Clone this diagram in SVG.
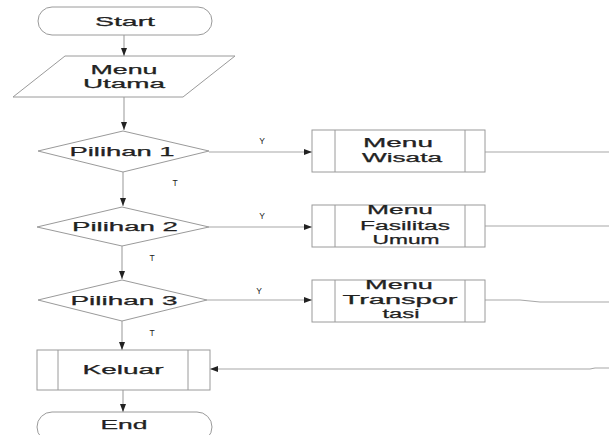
<svg xmlns="http://www.w3.org/2000/svg" width="609" height="435" viewBox="0 0 609 435">
<defs>
<marker id="ah" markerWidth="8" markerHeight="6" refX="8" refY="3" orient="auto" markerUnits="userSpaceOnUse">
<path d="M0,0 L8,3 L0,6 Z" fill="#222"/>
</marker>
<style>
.s{fill:#fff;stroke:#9a9a9a;stroke-width:1}
.c{fill:none;stroke:#a8a8a8;stroke-width:1.2}
.t{font-family:"Liberation Sans",Arial,sans-serif;font-size:12.5px;fill:#222;stroke:#222;stroke-width:0.25;text-anchor:middle}
.l{font-family:"Liberation Sans",Arial,sans-serif;font-size:8.5px;fill:#222;text-anchor:middle}
</style>
</defs>
<rect width="609" height="435" fill="#fff"/>
<g id="connectors">
<line class="c" x1="124" y1="35" x2="124" y2="56" marker-end="url(#ah)"/>
<line class="c" x1="124" y1="97" x2="124" y2="130" marker-end="url(#ah)"/>
<line class="c" x1="123" y1="172" x2="123" y2="206" marker-end="url(#ah)"/>
<line class="c" x1="122" y1="246" x2="122" y2="279" marker-end="url(#ah)"/>
<line class="c" x1="122" y1="321" x2="122" y2="350" marker-end="url(#ah)"/>
<line class="c" x1="123" y1="390" x2="123" y2="412" marker-end="url(#ah)"/>
<line class="c" x1="209" y1="152" x2="312" y2="152" marker-end="url(#ah)"/>
<line class="c" x1="209" y1="227" x2="312" y2="227" marker-end="url(#ah)"/>
<line class="c" x1="207" y1="300" x2="312" y2="300" marker-end="url(#ah)"/>
<line class="c" x1="485" y1="152" x2="609" y2="152"/>
<line class="c" x1="485" y1="226" x2="609" y2="226"/>
<polyline class="c" points="485,300 520,300 540,302 609,302"/>
<polyline class="c" points="609,368 595,368 590,369 210,369" marker-end="url(#ah)"/>
<text class="l" x="262" y="144">Y</text>
<text class="l" x="262" y="219">Y</text>
<text class="l" x="259" y="294">Y</text>
<text class="l" x="175" y="186">T</text>
<text class="l" x="152" y="261">T</text>
<text class="l" x="152" y="336">T</text>
</g>
<g id="start">
<rect class="s" x="38" y="7" width="174" height="28" rx="14" ry="14"/>
<text class="t" x="125" y="26" textLength="60" lengthAdjust="spacingAndGlyphs">Start</text>
</g>
<g id="menu-utama">
<polygon class="s" points="65,56 235,56 183,97 13,97"/>
<text class="t" x="124" y="74" textLength="67" lengthAdjust="spacingAndGlyphs">Menu</text>
<text class="t" x="124" y="88" textLength="82" lengthAdjust="spacingAndGlyphs">Utama</text>
</g>
<g id="pilihan1">
<polygon class="s" points="123,131 209,151 123,172 38,151"/>
<text class="t" x="122" y="156" textLength="105" lengthAdjust="spacingAndGlyphs">Pilihan 1</text>
</g>
<g id="pilihan2">
<polygon class="s" points="122,207 209,227 122,246 37,227"/>
<text class="t" x="125" y="231" textLength="106" lengthAdjust="spacingAndGlyphs">Pilihan 2</text>
</g>
<g id="pilihan3">
<polygon class="s" points="122,280 207,300 122,321 38,300"/>
<text class="t" x="124" y="305" textLength="107" lengthAdjust="spacingAndGlyphs">Pilihan 3</text>
</g>
<g id="menu-wisata">
<rect class="s" x="312" y="130" width="173" height="42"/>
<line class="s" x1="335" y1="130" x2="335" y2="172"/>
<line class="s" x1="465" y1="130" x2="465" y2="172"/>
<text class="t" x="398" y="147" textLength="70" lengthAdjust="spacingAndGlyphs">Menu</text>
<text class="t" x="402" y="162" textLength="80" lengthAdjust="spacingAndGlyphs">Wisata</text>
</g>
<g id="menu-fasilitas">
<rect class="s" x="312" y="205" width="173" height="42"/>
<line class="s" x1="335" y1="205" x2="335" y2="247"/>
<line class="s" x1="465" y1="205" x2="465" y2="247"/>
<text class="t" x="400" y="214" textLength="66" lengthAdjust="spacingAndGlyphs">Menu</text>
<text class="t" x="405" y="230" textLength="90" lengthAdjust="spacingAndGlyphs">Fasilitas</text>
<text class="t" x="406" y="244" textLength="67" lengthAdjust="spacingAndGlyphs">Umum</text>
</g>
<g id="menu-transportasi">
<rect class="s" x="312" y="280" width="173" height="42"/>
<line class="s" x1="335" y1="280" x2="335" y2="322"/>
<line class="s" x1="465" y1="280" x2="465" y2="322"/>
<text class="t" x="399" y="289" textLength="68" lengthAdjust="spacingAndGlyphs">Menu</text>
<text class="t" x="400" y="304" textLength="115" lengthAdjust="spacingAndGlyphs">Transpor</text>
<text class="t" x="401" y="318" textLength="37" lengthAdjust="spacingAndGlyphs">tasi</text>
</g>
<g id="keluar">
<rect class="s" x="37" y="350" width="173" height="40"/>
<line class="s" x1="58" y1="350" x2="58" y2="390"/>
<line class="s" x1="188" y1="350" x2="188" y2="390"/>
<text class="t" x="123" y="374" textLength="81" lengthAdjust="spacingAndGlyphs">Keluar</text>
</g>
<g id="end">
<rect class="s" x="37" y="412" width="175" height="30" rx="15" ry="15"/>
<text class="t" x="124" y="429" textLength="47" lengthAdjust="spacingAndGlyphs">End</text>
</g>
</svg>
